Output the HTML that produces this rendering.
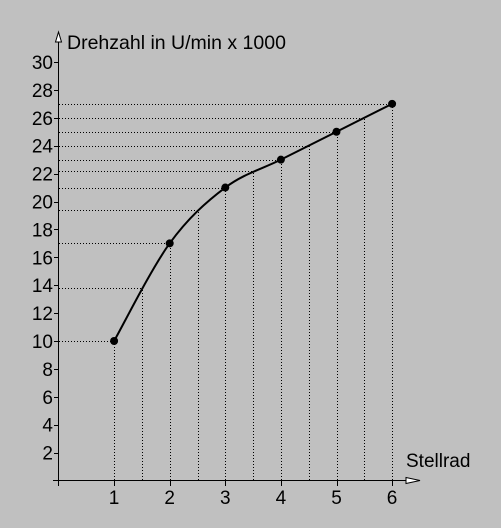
<!DOCTYPE html>
<html><head><meta charset="utf-8"><style>
body{margin:0;background:#c0c0c0;}
svg{display:block;font-family:"Liberation Sans",sans-serif;}
</style></head><body>
<svg width="501" height="528" viewBox="0 0 501 528">
<rect width="501" height="528" fill="#c0c0c0"/>
<g id="grid" shape-rendering="crispEdges"></g>
<g id="axes">
<line x1="58.5" y1="486" x2="58.5" y2="38" stroke="#000" shape-rendering="crispEdges"/>
<line x1="53" y1="480.5" x2="418" y2="480.5" stroke="#000" shape-rendering="crispEdges"/>
<path d="M58.5 32 L55.5 42 L61.5 42 Z" fill="#fff" stroke="#000"/>
<path d="M420 480.5 L406 477.5 L406 483.5 Z" fill="#fff" stroke="#000"/>
<text x="67" y="49" font-size="19.5">Drehzahl in U/min x 1000</text>
<text x="406" y="467" font-size="19">Stellrad</text>
</g>
<g id="ticks"></g>
<path id="curve" fill="none" stroke="#000" stroke-width="2"/>
<g id="pts"></g>
</svg>
<script>
const xValues=[1,2,3,4,5,6];
const yValues=[10,17,21,23,25,27];
const halfX=[1.5,2.5,3.5,4.5,5.5];
const halfY=[13.8,19.4,22.2,24,26];
const xTicks=[1,2,3,4,5,6];
const yTicks=[2,4,6,8,10,12,14,16,18,20,22,24,26,28,30];
const sx=v=>58.5+v*55.6;
const sy=v=>480.5-v*13.95;
const px=v=>Math.round(v)+0.5;
const NS="http://www.w3.org/2000/svg";
function mk(tag,attrs,parent){const e=document.createElementNS(NS,tag);for(const k in attrs)e.setAttribute(k,attrs[k]);parent.appendChild(e);return e;}
const grid=document.getElementById('grid'),ticks=document.getElementById('ticks'),pts=document.getElementById('pts');
const allX=[],allY=[];
xValues.forEach((x,i)=>{allX.push(x);allY.push(yValues[i]);if(i<halfX.length){allX.push(halfX[i]);allY.push(halfY[i]);}});
allX.forEach((x,i)=>{
 const y=allY[i];
 const h=mk('line',{x1:59,x2:px(sx(x)),y1:px(sy(y)),y2:px(sy(y)),stroke:'#000','stroke-dasharray':'1 2'},grid);
 
 
 const v=mk('line',{x1:px(sx(x)),x2:px(sx(x)),y1:480,y2:px(sy(y)),stroke:'#000','stroke-dasharray':'1 2'},grid);
 
 
});
xTicks.forEach(t=>{
 const l=mk('line',{x1:px(sx(t)),x2:px(sx(t)),y1:480,y2:486,stroke:'#000','shape-rendering':'crispEdges'},ticks);
 
 
 const tx=mk('text',{x:sx(t),y:504,'font-size':19,'text-anchor':'middle'},ticks);tx.textContent=t;
 
 
});
yTicks.forEach(t=>{
 const l=mk('line',{x1:54,x2:58,y1:px(sy(t)),y2:px(sy(t)),stroke:'#000','shape-rendering':'crispEdges'},ticks);
 
 
 const tx=mk('text',{x:53,y:sy(t)+7,'font-size':19,'text-anchor':'end'},ticks);tx.textContent=t;
 
 
});
const P=xValues.map((x,i)=>[sx(x),sy(yValues[i])]);
let d='M'+P[0][0]+' '+P[0][1];
for(let i=0;i<P.length-1;i++){
 const p0=P[Math.max(i-1,0)],p1=P[i],p2=P[i+1],p3=P[Math.min(i+2,P.length-1)];
 const c1=[p1[0]+(p2[0]-p0[0])/6,p1[1]+(p2[1]-p0[1])/6];
 const c2=[p2[0]-(p3[0]-p1[0])/6,p2[1]-(p3[1]-p1[1])/6];
 d+=` C${c1[0]} ${c1[1]} ${c2[0]} ${c2[1]} ${p2[0]} ${p2[1]}`;
}
document.getElementById('curve').setAttribute('d',d);
P.forEach(p=>{
 const c=mk('circle',{cx:p[0],cy:p[1],r:4,fill:'#000'},pts);
 
 
});
</script>
</body></html>
